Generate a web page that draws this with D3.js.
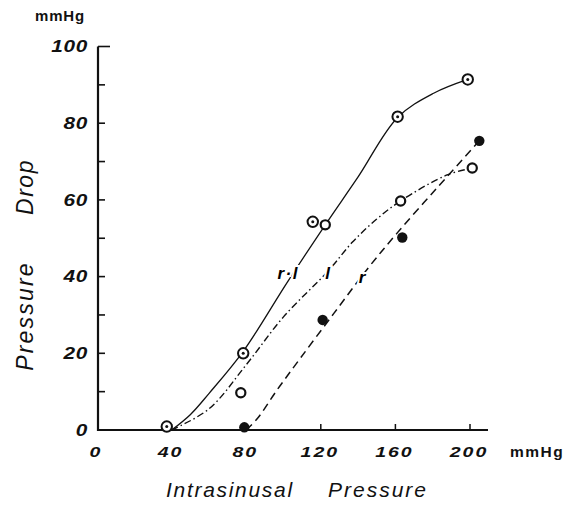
<!DOCTYPE html>
<html lang="en">
<head>
  <title>Pressure Drop</title>
  <script src="https://cdn.jsdelivr.net/npm/d3@7"></script>
  <style>
    body { margin: 0; background: #fff; }
    text { font-family: "Liberation Sans", "DejaVu Sans", sans-serif; fill: #111; }
  </style>
</head>
<body>
  <script>
    // measured points (mmHg)
    const rlPoints = [[37.4, 0.9], [78.4, 20], [115.7, 54.3], [161.2, 81.7], [198.8, 91.4]];
    const lPoints = [[77.1, 9.7], [122.4, 53.5], [162.8, 59.7], [201.2, 68.3]];
    const rPoints = [[79, 0.7], [121, 28.7], [163.7, 50.2], [205, 75.4]];

    // hand-drawn fitted curves
    const rlCurve = [[40, 0], [50, 4], [60, 9.5], [78.4, 20.5], [102, 38.5], [122.4, 53.5], [140, 66], [161.2, 81.5], [180.5, 87.8], [198.8, 91.4]];
    const lCurve = [[40, 0], [60, 5.5], [80, 17], [100, 29.5], [124, 41.5], [137, 49], [150, 55], [163, 59.8], [187.7, 66.5], [201.2, 68.3]];
    const rCurve = [[80, 0], [86, 3], [96.5, 10.4], [109, 18.7], [127, 30.4], [145, 42], [161, 51.4], [183, 63.5], [205, 75.4]];

    const xTicks = [0, 40, 80, 120, 160, 200];
    const yTicks = [0, 20, 40, 60, 80, 100];
    const yMinor = [10, 30, 50, 70, 90];

    const width = 574, height = 507;
    const svg = d3.select("body").append("svg")
      .attr("width", width)
      .attr("height", height);

    const x = d3.scaleLinear().domain([0, 200]).range([97, 470]);
    const y = d3.scaleLinear().domain([0, 100]).range([430, 46.5]);

    // axes lines
    svg.append("line")
      .attr("x1", 98).attr("x2", 98)
      .attr("y1", y(100)).attr("y2", y(0) + 1)
      .attr("stroke", "#111").attr("stroke-width", 2.2);
    svg.append("line")
      .attr("x1", 97).attr("x2", 488)
      .attr("y1", y(0)).attr("y2", y(0))
      .attr("stroke", "#111").attr("stroke-width", 2);

    // y ticks (pointing right)
    svg.selectAll(".ytick").data(yTicks.filter(d => d > 0).concat(yMinor)).join("line")
      .attr("x1", 98).attr("x2", d => d === 100 ? 110 : 105)
      .attr("y1", d => y(d)).attr("y2", d => y(d))
      .attr("stroke", "#111").attr("stroke-width", 1.6);
    // x ticks (pointing up)
    svg.selectAll(".xtick").data(xTicks.filter(d => d > 0)).join("line")
      .attr("x1", d => x(d)).attr("x2", d => x(d))
      .attr("y1", y(0)).attr("y2", y(0) - 6)
      .attr("stroke", "#111").attr("stroke-width", 1.5);

    // tick labels, wide squat hand lettering
    svg.selectAll(".ylab").data(yTicks).join("text")
      .attr("transform", d => `translate(88, ${y(d)}) scale(1.3, 1)`)
      .attr("dy", "0.36em")
      .attr("text-anchor", "end")
      .attr("font-size", 16).attr("font-style", "italic").attr("font-weight", "bold")
      .attr("letter-spacing", 0.5)
      .text(d => d);
    svg.selectAll(".xlab").data(xTicks).join("text")
      .attr("transform", d => `translate(${x(d) - 1}, 452) scale(1.3, 1)`)
      .attr("dy", "0.36em")
      .attr("text-anchor", "middle")
      .attr("font-size", 15).attr("font-style", "italic").attr("font-weight", "bold")
      .attr("letter-spacing", 1.5)
      .text(d => d);

    // unit labels
    svg.append("text").attr("x", 35).attr("y", 21)
      .attr("font-size", 15).attr("font-weight", "bold").attr("letter-spacing", 0.8).text("mmHg");
    svg.append("text").attr("x", 510).attr("y", 457)
      .attr("font-size", 15.5).attr("font-weight", "bold").attr("letter-spacing", 1.5).text("mmHg");

    // axis titles
    svg.append("text")
      .attr("x", 166).attr("y", 497)
      .attr("font-size", 21).attr("font-style", "italic").attr("letter-spacing", 1.7)
      .text("Intrasinusal");
    svg.append("text")
      .attr("x", 328).attr("y", 497)
      .attr("font-size", 21).attr("font-style", "italic").attr("letter-spacing", 2)
      .text("Pressure");
    svg.append("text")
      .attr("transform", "translate(33, 316) rotate(-90)")
      .attr("text-anchor", "middle")
      .attr("font-size", 23).attr("font-style", "italic").attr("letter-spacing", 2.2)
      .text("Pressure");
    svg.append("text")
      .attr("transform", "translate(33, 187) rotate(-90)")
      .attr("text-anchor", "middle")
      .attr("font-size", 23).attr("font-style", "italic").attr("letter-spacing", 1.5)
      .text("Drop");

    // curves
    const line = d3.line()
      .x(d => x(d[0])).y(d => y(d[1]))
      .curve(d3.curveCatmullRom.alpha(0.5));
    svg.append("path").attr("d", line(rlCurve))
      .attr("fill", "none").attr("stroke", "#111").attr("stroke-width", 1.3);
    svg.append("path").attr("d", line(lCurve))
      .attr("fill", "none").attr("stroke", "#111").attr("stroke-width", 1.4)
      .attr("stroke-dasharray", "7,3,1.5,3");
    svg.append("path").attr("d", line(rCurve))
      .attr("fill", "none").attr("stroke", "#111").attr("stroke-width", 1.5)
      .attr("stroke-dasharray", "8,5");

    // curve labels, cut into their lines
    const curveLabels = [["r\u00b7l", 102.5, 41], ["l", 124, 41], ["r", 142.5, 40]];
    const labelFont = sel => sel
      .attr("x", d => x(d[1])).attr("y", d => y(d[2]))
      .attr("dy", "0.35em")
      .attr("text-anchor", "middle")
      .attr("font-family", "Liberation Serif, DejaVu Serif, serif")
      .attr("font-style", "italic").attr("font-weight", "bold").attr("font-size", 17)
      .attr("letter-spacing", 1.5)
      .text(d => d[0]);
    svg.selectAll(".clab-bg").data(curveLabels).join("text").call(labelFont)
      .attr("fill", "#fff").attr("stroke", "#fff").attr("stroke-width", 4);
    svg.selectAll(".clab").data(curveLabels).join("text").call(labelFont)
      .style("fill", "#000");

    // markers
    const g = svg.append("g");
    g.selectAll(".rl").data(rlPoints).join("circle")
      .attr("cx", d => x(d[0])).attr("cy", d => y(d[1])).attr("r", 5.2)
      .attr("fill", "#fff").attr("stroke", "#111").attr("stroke-width", 2);
    g.selectAll(".rldot").data(rlPoints).join("circle")
      .attr("cx", d => x(d[0])).attr("cy", d => y(d[1])).attr("r", 1.5)
      .attr("fill", "#111");
    g.selectAll(".l").data(lPoints).join("circle")
      .attr("cx", d => x(d[0])).attr("cy", d => y(d[1])).attr("r", 4.6)
      .attr("fill", "#fff").attr("stroke", "#111").attr("stroke-width", 2.2);
    g.selectAll(".r").data(rPoints).join("circle")
      .attr("cx", d => x(d[0])).attr("cy", d => y(d[1])).attr("r", 5.2)
      .attr("fill", "#111");
  </script>
</body>
</html>
